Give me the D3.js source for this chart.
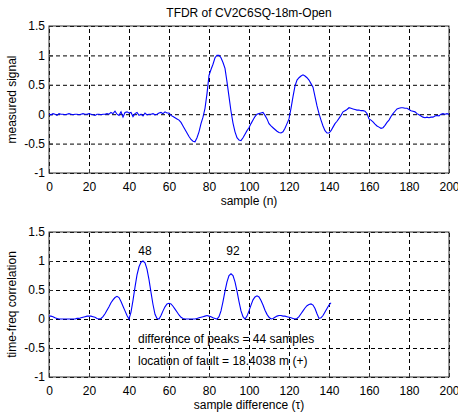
<!DOCTYPE html>
<html lang="en">
<head>
  <meta charset="utf-8" />
  <title>TFDR of CV2C6SQ-18m-Open</title>
  <script src="https://d3js.org/d3.v7.min.js"></script>
  <style>
    body { margin: 0; background: #fff; }
    svg text { font-family: "Liberation Sans", Arial, sans-serif; fill: #000; }
    .grid line { stroke: #000; stroke-dasharray: 4,3; stroke-width: 1; }
    .grid path { display: none; }
    .tk path { display: none; }
    .tk line { stroke: #333; }
  </style>
</head>
<body>
<div id="chart"></div>
<script>
  // top panel : measured signal, samples 0..200
  const signal = [
    0.00,-0.01,0.01,0.00,-0.02,0.01,0.00,0.00,-0.01,0.00,
    0.01,0.00,-0.01,0.00,0.00,-0.01,0.00,0.01,0.00,0.00,
    0.01,0.00,-0.01,-0.02,0.00,0.00,-0.01,0.00,0.00,0.01,
    0.00,0.03,0.01,0.05,0.00,-0.02,0.04,-0.05,0.03,0.04,
    0.02,0.03,-0.04,0.01,0.03,-0.02,0.00,-0.03,0.02,-0.01,
    0.00,0.00,0.01,-0.01,0.00,0.02,0.03,0.01,0.04,0.02,
    0.02,-0.02,-0.04,-0.06,-0.08,-0.10,-0.14,-0.20,-0.26,-0.32,
    -0.38,-0.43,-0.46,-0.47,-0.40,-0.30,-0.16,-0.05,0.10,0.35,
    0.66,0.76,0.85,0.96,1.00,1.00,0.96,0.88,0.78,0.55,
    0.30,0.05,-0.15,-0.30,-0.40,-0.44,-0.45,-0.40,-0.34,-0.28,
    -0.23,-0.16,-0.10,-0.04,0.00,0.01,0.02,0.03,-0.02,-0.08,
    -0.16,-0.20,-0.23,-0.26,-0.29,-0.31,-0.32,-0.30,-0.24,-0.16,
    -0.08,0.10,0.30,0.48,0.58,0.62,0.65,0.67,0.65,0.62,
    0.58,0.52,0.46,0.30,0.14,0.01,-0.10,-0.20,-0.28,-0.32,
    -0.32,-0.28,-0.22,-0.16,-0.12,-0.07,-0.02,0.04,0.06,0.08,
    0.11,0.10,0.09,0.08,0.07,0.07,0.06,0.06,0.05,0.01,
    -0.08,-0.10,-0.13,-0.17,-0.20,-0.22,-0.24,-0.23,-0.19,-0.14,
    -0.10,-0.04,0.01,0.05,0.09,0.10,0.11,0.11,0.10,0.10,
    0.08,0.06,0.05,0.04,0.01,-0.01,-0.03,-0.05,-0.06,-0.05,
    -0.06,-0.05,-0.05,-0.03,-0.02,-0.03,0.00,0.01,0.00,0.01,
    0.00
  ];

  // bottom panel : time-frequency correlation, lag 0..141
  const correlation = [
    0.05,0.05,0.04,0.02,0.01,0.00,0.00,0.00,0.00,0.00,
    0.00,0.00,0.00,0.00,0.01,0.01,0.02,0.03,0.04,0.05,
    0.05,0.05,0.04,0.03,0.01,0.00,0.01,0.04,0.09,0.15,
    0.21,0.28,0.33,0.37,0.39,0.37,0.30,0.22,0.14,0.06,
    0.00,0.12,0.32,0.55,0.76,0.90,0.98,1.00,0.97,0.86,
    0.68,0.46,0.25,0.08,0.01,0.00,0.06,0.14,0.21,0.26,
    0.27,0.26,0.22,0.17,0.12,0.07,0.03,0.01,0.00,0.00,
    0.00,0.00,0.00,0.00,0.01,0.02,0.03,0.04,0.05,0.06,
    0.05,0.04,0.02,0.01,0.00,0.04,0.14,0.30,0.48,0.64,
    0.75,0.78,0.75,0.64,0.48,0.30,0.14,0.04,0.00,0.05,
    0.14,0.24,0.33,0.38,0.40,0.38,0.32,0.24,0.15,0.08,
    0.03,0.00,0.01,0.03,0.05,0.06,0.06,0.05,0.05,0.04,
    0.03,0.02,0.01,0.00,0.01,0.04,0.09,0.14,0.19,0.23,
    0.25,0.26,0.24,0.18,0.09,0.01,0.02,0.06,0.12,0.18,
    0.24,0.28
  ];

  const xTicks = [0, 20, 40, 60, 80, 100, 120, 140, 160, 180, 200];
  const yTicks = [-1, -0.5, 0, 0.5, 1, 1.5];
  const peakLabels = [{ x: 48, label: "48" }, { x: 92, label: "92" }];
  const notes = [
    "difference of peaks = 44 samples",
    "location of fault = 18.4038 m (+)"
  ];

  const W = 458, H = 420;
  const svg = d3.select("#chart").append("svg")
    .attr("width", W).attr("height", H);

  // draw one MATLAB style axes box
  function panel(opt) {
    const x = d3.scaleLinear().domain([0, 200]).range([opt.left, opt.right]);
    const y = d3.scaleLinear().domain([-1, 1.5]).range([opt.bottom, opt.top]);
    const g = svg.append("g");

    // dashed grid
    g.append("g").attr("class", "grid")
      .attr("transform", `translate(0,${opt.bottom})`)
      .call(d3.axisBottom(x).tickValues(xTicks).tickSize(-(opt.bottom - opt.top)).tickFormat(""));
    g.append("g").attr("class", "grid")
      .attr("transform", `translate(${opt.left},0)`)
      .call(d3.axisLeft(y).tickValues(yTicks).tickSize(-(opt.right - opt.left)).tickFormat(""));

    // tick labels + small inward ticks
    const bx = g.append("g").attr("class", "tk")
      .attr("transform", `translate(0,${opt.bottom})`)
      .call(d3.axisBottom(x).tickValues(xTicks).tickSizeInner(-4).tickSizeOuter(0).tickPadding(9));
    bx.selectAll("text").style("font-size", "12px");
    const ly = g.append("g").attr("class", "tk")
      .attr("transform", `translate(${opt.left},0)`)
      .call(d3.axisLeft(y).tickValues(yTicks).tickSizeInner(-4).tickSizeOuter(0).tickPadding(4)
        .tickFormat(d => String(d)));
    ly.selectAll("text").style("font-size", "12px");

    // frame
    g.append("rect")
      .attr("x", opt.left).attr("y", opt.top)
      .attr("width", opt.right - opt.left).attr("height", opt.bottom - opt.top)
      .attr("fill", "none").attr("stroke", "#333").attr("stroke-width", 1);

    // the curve
    g.append("path")
      .datum(opt.data)
      .attr("fill", "none")
      .attr("stroke", "#0000ff")
      .attr("stroke-width", 1.1)
      .attr("d", d3.line().x((d, i) => x(i)).y(d => y(d)));

    // labels
    g.append("text")
      .attr("x", (opt.left + opt.right) / 2).attr("y", opt.bottom + 32)
      .attr("text-anchor", "middle").style("font-size", "12px")
      .text(opt.xlabel);
    g.append("text")
      .attr("transform", `translate(16,${(opt.top + opt.bottom) / 2}) rotate(-90)`)
      .attr("text-anchor", "middle").style("font-size", "12px")
      .text(opt.ylabel);

    return { x, y, g };
  }

  const upper = panel({
    left: 49, right: 449, top: 26, bottom: 173,
    data: signal, xlabel: "sample (n)", ylabel: "measured signal"
  });
  svg.append("text")
    .attr("x", 249).attr("y", 17)
    .attr("text-anchor", "middle").style("font-size", "12px")
    .text("TFDR of CV2C6SQ-18m-Open");

  const lower = panel({
    left: 49, right: 449, top: 232, bottom: 377,
    data: correlation, xlabel: "sample difference (\u03c4)", ylabel: "time-freq correlation"
  });

  lower.g.selectAll(".peak")
    .data(peakLabels)
    .enter().append("text")
    .attr("x", d => lower.x(d.x))
    .attr("y", lower.y(1.1))
    .attr("text-anchor", "middle").style("font-size", "12px")
    .text(d => d.label);

  lower.g.selectAll(".note")
    .data(notes)
    .enter().append("text")
    .attr("x", lower.x(44.5))
    .attr("y", (d, i) => lower.y(-0.35 - i * 0.38) + 4)
    .style("font-size", "12px")
    .text(d => d);
</script>
</body>
</html>
